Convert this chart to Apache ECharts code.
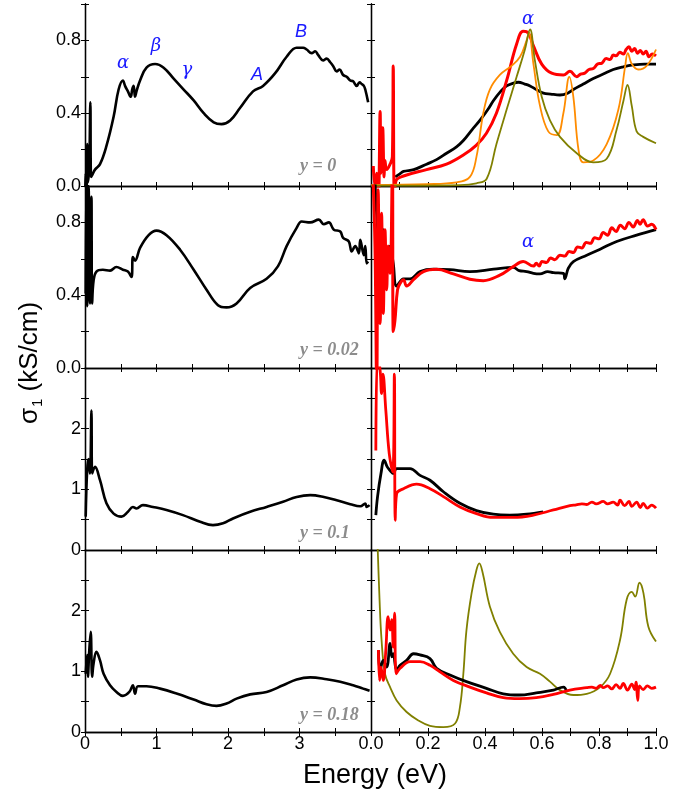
<!DOCTYPE html>
<html>
<head>
<meta charset="utf-8">
<script src="https://cdn.jsdelivr.net/npm/echarts@6/dist/echarts.min.js"></script>
<style>
    html, body {margin: 0; padding: 0; background: #fff;}
    #main {width: 695px; height: 796px;}
</style>
</head>
<body>
<div id="main"></div>
<script>
// panel ticks
var xTicksLeft = [0, 1, 2, 3];
var xTicksRight = [0.0, 0.2, 0.4, 0.6, 0.8, 1.0];
var rowLabels = ["y = 0", "y = 0.02", "y = 0.1", "y = 0.18"];
var rowMax = [1.0, 1.0, 3, 3];

// row 1 (y = 0)
var r1Left = [[0.005, 0.0], [0.01, 0.07], [0.02, -0.05], [0.03, 0.23], [0.04, 0.02], [0.05, 0.05], [0.06, 0.1], [0.075, 0.46], [0.085, 0.05], [0.1, 0.06], [0.14, 0.09], [0.21, 0.12], [0.3, 0.22], [0.4, 0.38], [0.47, 0.53], [0.53, 0.58], [0.56, 0.55], [0.6, 0.52], [0.64, 0.49], [0.66, 0.53], [0.68, 0.55], [0.7, 0.49], [0.72, 0.52], [0.77, 0.58], [0.86, 0.65], [0.98, 0.67], [1.1, 0.65], [1.24, 0.59], [1.38, 0.53], [1.52, 0.47], [1.66, 0.40], [1.8, 0.35], [1.91, 0.34], [2.03, 0.36], [2.17, 0.43], [2.35, 0.52], [2.49, 0.55], [2.66, 0.62], [2.82, 0.71], [2.96, 0.76], [3.05, 0.76], [3.1, 0.75], [3.17, 0.73], [3.22, 0.74], [3.26, 0.72], [3.33, 0.69], [3.38, 0.70], [3.43, 0.68], [3.47, 0.66], [3.52, 0.63], [3.56, 0.64], [3.61, 0.61], [3.66, 0.60], [3.71, 0.58], [3.75, 0.575], [3.8, 0.55], [3.84, 0.57], [3.87, 0.56], [3.9, 0.55], [3.92, 0.53], [3.96, 0.46]];
var r1RightBlack = [[0.085, 0.05], [0.1, 0.065], [0.114, 0.08], [0.15, 0.09], [0.195, 0.12], [0.23, 0.145], [0.265, 0.18], [0.3, 0.215], [0.324, 0.25], [0.355, 0.31], [0.382, 0.36], [0.41, 0.42], [0.43, 0.47], [0.455, 0.52], [0.476, 0.55], [0.5, 0.565], [0.517, 0.57], [0.54, 0.56], [0.558, 0.55], [0.58, 0.53], [0.605, 0.51], [0.63, 0.505], [0.663, 0.50], [0.69, 0.51], [0.71, 0.53], [0.745, 0.56], [0.78, 0.59], [0.815, 0.615], [0.85, 0.64], [0.885, 0.655], [0.92, 0.665], [0.96, 0.67], [1.0, 0.67]];
var r1RightRed = [[0.008, 0.11], [0.014, 0.0], [0.02, 0.07], [0.026, -0.07], [0.032, 0.41], [0.035, 0.07], [0.041, 0.32], [0.046, 0.05], [0.049, 0.14], [0.055, 0.09], [0.067, 0.12], [0.075, 0.16], [0.078, 0.66], [0.082, -0.06], [0.088, 0.03], [0.114, 0.055], [0.195, 0.09], [0.265, 0.12], [0.324, 0.17], [0.37, 0.225], [0.405, 0.29], [0.44, 0.40], [0.476, 0.58], [0.511, 0.78], [0.534, 0.85], [0.552, 0.84], [0.57, 0.77], [0.599, 0.67], [0.634, 0.62], [0.675, 0.61], [0.698, 0.63], [0.722, 0.60], [0.735, 0.615], [0.75, 0.62], [0.765, 0.64], [0.78, 0.645], [0.795, 0.67], [0.81, 0.675], [0.825, 0.70], [0.839, 0.695], [0.85, 0.72], [0.86, 0.715], [0.873, 0.735], [0.886, 0.725], [0.895, 0.75], [0.905, 0.765], [0.915, 0.74], [0.925, 0.755], [0.935, 0.73], [0.945, 0.745], [0.955, 0.725], [0.965, 0.74], [0.975, 0.71], [0.987, 0.725], [1.0, 0.715]];
var r1RightOrange = [[0.0, 0.005], [0.195, 0.01], [0.30, 0.02], [0.347, 0.05], [0.37, 0.16], [0.394, 0.40], [0.417, 0.53], [0.452, 0.61], [0.493, 0.66], [0.523, 0.71], [0.546, 0.80], [0.554, 0.84], [0.57, 0.67], [0.593, 0.44], [0.622, 0.30], [0.652, 0.28], [0.675, 0.40], [0.696, 0.60], [0.71, 0.49], [0.728, 0.20], [0.745, 0.13], [0.78, 0.14], [0.827, 0.23], [0.868, 0.42], [0.892, 0.66], [0.901, 0.73], [0.915, 0.67], [0.938, 0.64], [0.967, 0.66], [1.0, 0.75]];
var r1RightOlive = [[0.0, 0.002], [0.312, 0.005], [0.37, 0.015], [0.406, 0.04], [0.44, 0.23], [0.476, 0.42], [0.511, 0.60], [0.54, 0.75], [0.558, 0.86], [0.575, 0.69], [0.599, 0.49], [0.628, 0.36], [0.663, 0.27], [0.722, 0.18], [0.78, 0.13], [0.827, 0.15], [0.862, 0.31], [0.886, 0.47], [0.9, 0.555], [0.915, 0.44], [0.932, 0.30], [0.955, 0.27], [1.0, 0.235]];

// row 2 (y = 0.02)
var r2Left = [[0.01, 0.41], [0.02, 1.1], [0.03, 0.34], [0.05, 1.0], [0.07, 0.355], [0.09, 0.94], [0.10, 0.355], [0.12, 0.48], [0.16, 0.53], [0.25, 0.54], [0.35, 0.535], [0.44, 0.555], [0.53, 0.54], [0.6, 0.53], [0.65, 0.50], [0.67, 0.61], [0.7, 0.59], [0.77, 0.66], [0.89, 0.73], [1.0, 0.755], [1.14, 0.73], [1.33, 0.65], [1.52, 0.54], [1.7, 0.43], [1.86, 0.345], [1.98, 0.333], [2.12, 0.355], [2.31, 0.44], [2.54, 0.49], [2.7, 0.56], [2.82, 0.67], [2.96, 0.77], [3.03, 0.805], [3.15, 0.80], [3.27, 0.815], [3.34, 0.79], [3.41, 0.80], [3.48, 0.76], [3.57, 0.75], [3.61, 0.715], [3.69, 0.695], [3.73, 0.64], [3.78, 0.67], [3.83, 0.63], [3.85, 0.705], [3.9, 0.62], [3.92, 0.67], [3.94, 0.575], [3.96, 0.585]];
var r2RightBlack = [[0.012, 1.1], [0.035, 0.575], [0.043, 0.76], [0.055, 0.52], [0.067, 0.67], [0.078, 0.575], [0.09, 0.45], [0.114, 0.49], [0.137, 0.49], [0.172, 0.53], [0.219, 0.543], [0.277, 0.54], [0.347, 0.53], [0.43, 0.543], [0.499, 0.553], [0.52, 0.535], [0.546, 0.53], [0.57, 0.52], [0.593, 0.517], [0.62, 0.53], [0.64, 0.524], [0.675, 0.52], [0.68, 0.49], [0.692, 0.548], [0.71, 0.585], [0.757, 0.62], [0.804, 0.653], [0.862, 0.695], [0.932, 0.73], [1.0, 0.76]];
var r2RightRed = [[0.006, 1.1], [0.014, 0.67], [0.02, -0.1], [0.025, 0.98], [0.032, 0.245], [0.037, 0.85], [0.043, 0.30], [0.049, 0.76], [0.055, 0.43], [0.06, 0.67], [0.067, 0.52], [0.075, 1.1], [0.078, 0.2], [0.084, 0.26], [0.093, 0.43], [0.102, 0.465], [0.114, 0.485], [0.125, 0.45], [0.149, 0.485], [0.184, 0.53], [0.23, 0.543], [0.289, 0.517], [0.347, 0.488], [0.394, 0.48], [0.452, 0.51], [0.499, 0.557], [0.534, 0.585], [0.57, 0.56], [0.58, 0.575], [0.59, 0.56], [0.6, 0.585], [0.616, 0.58], [0.63, 0.605], [0.645, 0.595], [0.663, 0.62], [0.68, 0.615], [0.695, 0.64], [0.71, 0.635], [0.725, 0.665], [0.74, 0.66], [0.755, 0.69], [0.77, 0.685], [0.785, 0.715], [0.8, 0.71], [0.815, 0.745], [0.83, 0.73], [0.845, 0.77], [0.86, 0.75], [0.875, 0.785], [0.89, 0.765], [0.905, 0.80], [0.92, 0.775], [0.935, 0.81], [0.944, 0.79], [0.955, 0.815], [0.97, 0.78], [0.985, 0.79], [1.0, 0.76]];

// row 3 (y = 0.1)
var r3Left = [[0.01, 0.55], [0.03, 1.31], [0.05, 1.5], [0.07, 1.26], [0.09, 2.30], [0.10, 1.26], [0.14, 1.37], [0.21, 1.15], [0.3, 0.77], [0.4, 0.60], [0.51, 0.55], [0.6, 0.63], [0.67, 0.71], [0.72, 0.685], [0.81, 0.74], [0.95, 0.71], [1.14, 0.66], [1.37, 0.575], [1.61, 0.465], [1.79, 0.41], [1.93, 0.44], [2.07, 0.52], [2.31, 0.63], [2.54, 0.71], [2.77, 0.795], [2.96, 0.875], [3.15, 0.905], [3.34, 0.875], [3.52, 0.82], [3.71, 0.755], [3.85, 0.72], [3.92, 0.765], [3.94, 0.71], [3.98, 0.74]];
var r3RightBlack = [[0.017, 0.575], [0.023, 0.88], [0.035, 1.26], [0.046, 1.48], [0.057, 1.37], [0.067, 1.31], [0.078, 1.26], [0.09, 1.34], [0.114, 1.34], [0.137, 1.34], [0.172, 1.23], [0.207, 1.15], [0.254, 0.96], [0.312, 0.77], [0.37, 0.65], [0.429, 0.59], [0.487, 0.575], [0.546, 0.59], [0.604, 0.63]];
var r3RightRed = [[0.017, 1.64], [0.023, 3.2], [0.032, 2.96], [0.037, 2.58], [0.042, 2.9], [0.052, 2.3], [0.064, 1.59], [0.076, 1.29], [0.082, 2.9], [0.085, 0.49], [0.09, 0.93], [0.114, 1.01], [0.16, 1.085], [0.207, 1.01], [0.254, 0.88], [0.312, 0.71], [0.37, 0.60], [0.429, 0.537], [0.499, 0.537], [0.57, 0.575], [0.64, 0.66], [0.698, 0.73], [0.72, 0.745], [0.74, 0.76], [0.757, 0.75], [0.775, 0.79], [0.79, 0.76], [0.815, 0.8], [0.83, 0.76], [0.85, 0.79], [0.865, 0.74], [0.874, 0.82], [0.89, 0.73], [0.905, 0.80], [0.915, 0.72], [0.932, 0.79], [0.945, 0.70], [0.955, 0.77], [0.97, 0.69], [0.985, 0.74], [1.0, 0.69]];

// row 4 (y = 0.18)
var r4Left = [[0.01, 0.96], [0.03, 1.27], [0.04, 0.91], [0.06, 1.35], [0.08, 1.65], [0.1, 0.91], [0.12, 1.13], [0.16, 1.32], [0.21, 1.18], [0.26, 0.96], [0.35, 0.77], [0.44, 0.66], [0.53, 0.595], [0.62, 0.66], [0.67, 0.77], [0.7, 0.63], [0.74, 0.755], [0.86, 0.755], [1.05, 0.715], [1.28, 0.635], [1.52, 0.535], [1.7, 0.457], [1.84, 0.43], [1.98, 0.47], [2.12, 0.55], [2.31, 0.62], [2.54, 0.66], [2.77, 0.77], [2.96, 0.865], [3.15, 0.90], [3.38, 0.87], [3.57, 0.83], [3.75, 0.77], [3.89, 0.715], [3.98, 0.68]];
var r4RightOlive = [[0.02, 3.5], [0.03, 2.18], [0.037, 1.52], [0.049, 0.96], [0.067, 0.74], [0.09, 0.52], [0.125, 0.33], [0.166, 0.19], [0.207, 0.10], [0.254, 0.08], [0.295, 0.14], [0.312, 0.41], [0.324, 0.96], [0.335, 1.68], [0.353, 2.29], [0.37, 2.67], [0.38, 2.78], [0.392, 2.62], [0.417, 2.07], [0.452, 1.65], [0.499, 1.29], [0.546, 1.07], [0.593, 0.96], [0.628, 0.83], [0.663, 0.69], [0.71, 0.61], [0.757, 0.63], [0.804, 0.74], [0.839, 0.96], [0.874, 1.52], [0.897, 2.18], [0.915, 2.31], [0.927, 2.23], [0.942, 2.46], [0.956, 2.29], [0.973, 1.74], [1.0, 1.49]];
var r4RightBlack = [[0.026, 1.35], [0.032, 1.02], [0.043, 1.18], [0.055, 1.07], [0.067, 1.46], [0.073, 1.24], [0.078, 1.29], [0.09, 1.02], [0.102, 1.10], [0.125, 1.18], [0.149, 1.29], [0.172, 1.27], [0.207, 1.21], [0.23, 1.05], [0.277, 0.94], [0.335, 0.83], [0.405, 0.72], [0.464, 0.63], [0.52, 0.61], [0.58, 0.645], [0.64, 0.69], [0.675, 0.74], [0.687, 0.66]];
var r4RightRed = [[0.026, 1.35], [0.03, 0.85], [0.035, 1.07], [0.043, 0.85], [0.052, 1.35], [0.06, 1.90], [0.067, 1.68], [0.073, 1.85], [0.078, 1.40], [0.083, 1.96], [0.088, 0.96], [0.102, 1.05], [0.137, 1.16], [0.172, 1.16], [0.207, 1.10], [0.242, 0.99], [0.289, 0.85], [0.347, 0.74], [0.405, 0.645], [0.464, 0.567], [0.52, 0.55], [0.58, 0.567], [0.64, 0.62], [0.698, 0.69], [0.757, 0.73], [0.775, 0.74], [0.79, 0.72], [0.805, 0.77], [0.815, 0.73], [0.83, 0.76], [0.845, 0.71], [0.86, 0.78], [0.874, 0.72], [0.885, 0.80], [0.9, 0.69], [0.915, 0.79], [0.925, 0.70], [0.93, 0.82], [0.936, 0.52], [0.942, 0.76], [0.955, 0.70], [0.97, 0.76], [0.985, 0.72], [1.0, 0.74]];

var BLACK = "#000000", RED = "#ff0000", ORANGE = "#ff8c00", OLIVE = "#808000";

var chart = echarts.init(document.getElementById("main"));

var gridLeft = [85, 371], gridWidth = [286, 285];
var gridTop = [4, 186, 368, 550], gridHeight = 182;

var grids = [], xAxes = [], yAxes = [], series = [];

var lineAxis = {lineStyle: {color: "#000", width: 1.3}};
var tick = {inside: true, length: 4, lineStyle: {color: "#000", width: 1}};

var xLabel = function (col) {
    return function (v) {
        var r = Math.round(v * 10) / 10;
        if (col === 0) {
            return xTicksLeft.indexOf(r) >= 0 ? String(r) : "";
        }
        return xTicksRight.indexOf(r) >= 0 ? r.toFixed(1) : "";
    };
};
var yLabel = function (row) {
    return function (v) {
        var r = Math.round(v * 10) / 10;
        if (row < 2) {
            return (Math.round(r * 10) % 4 === 0 && r < 0.95) ? r.toFixed(1) : "";
        }
        return (r % 1 === 0 && r < 3) ? String(r) : "";
    };
};

function $ext(a, b) {
    var o = {};
    for (var k in a) o[k] = a[k];
    for (var k2 in b) o[k2] = b[k2];
    return o;
}

for (var row = 0; row < 4; row++) {
    for (var col = 0; col < 2; col++) {
        var g = row * 2 + col;
        grids.push({left: gridLeft[col], top: gridTop[row], width: gridWidth[col], height: gridHeight, containLabel: false});
        var xBase = {
            gridIndex: g, type: "value", min: 0, max: col === 0 ? 4 : 1, interval: col === 0 ? 0.5 : 0.1,
            axisLine: lineAxis, axisTick: tick, splitLine: {show: false}
        };
        xAxes.push($ext(xBase, {position: "bottom", axisLabel: {show: row === 3, formatter: xLabel(col), color: "#000", fontSize: 18, fontFamily: "Liberation Sans", margin: 3}}));
        xAxes.push($ext(xBase, {position: "top", axisLabel: {show: false}}));
        var yBase = {
            gridIndex: g, type: "value", min: 0, max: rowMax[row], interval: row < 2 ? 0.2 : 0.5,
            axisLine: lineAxis, axisTick: tick, splitLine: {show: false}
        };
        yAxes.push($ext(yBase, {position: "left", axisLabel: {show: col === 0, formatter: yLabel(row), color: "#000", fontSize: 18, fontFamily: "Liberation Sans", margin: 4}}));
        yAxes.push($ext(yBase, {position: "right", axisLabel: {show: false}}));
    }
}

function addLine(g, data, color, width) {
    series.push({
        type: "line", xAxisIndex: g * 2, yAxisIndex: g * 2, data: data,
        showSymbol: false, symbol: "none", clip: true, animation: false,
        smooth: 0.4,
        lineStyle: {color: color, width: width}
    });
}

addLine(0, r1Left, BLACK, 2.6);
addLine(1, r1RightBlack, BLACK, 2.8);
addLine(1, r1RightRed, RED, 3);
addLine(1, r1RightOrange, ORANGE, 1.8);
addLine(1, r1RightOlive, OLIVE, 1.8);
addLine(2, r2Left, BLACK, 2.6);
addLine(3, r2RightBlack, BLACK, 2.8);
addLine(3, r2RightRed, RED, 3);
addLine(4, r3Left, BLACK, 2.6);
addLine(5, r3RightBlack, BLACK, 2.8);
addLine(5, r3RightRed, RED, 2.8);
addLine(6, r4Left, BLACK, 2.6);
addLine(7, r4RightOlive, OLIVE, 1.8);
addLine(7, r4RightBlack, BLACK, 2.8);
addLine(7, r4RightRed, RED, 2.8);

var blueGreek = {fill: "#1a1aff", font: "italic 18px 'DejaVu Serif'", textAlign: "center", textVerticalAlign: "middle"};
var blueLatin = {fill: "#1a1aff", font: "italic 18px 'Liberation Sans'", textAlign: "center", textVerticalAlign: "middle"};
var gText = function (x, y, text, st) {
    var s = {text: text};
    for (var k in st) s[k] = st[k];
    return {type: "text", x: x, y: y, style: s, silent: true};
};

var graphics = [
    gText(123, 63, "\u03b1", blueGreek),
    gText(156, 46, "\u03b2", blueGreek),
    gText(187, 70, "\u03b3", blueGreek),
    gText(257, 75, "A", blueLatin),
    gText(301, 32, "B", blueLatin),
    gText(528, 19, "\u03b1", blueGreek),
    gText(528, 242, "\u03b1", blueGreek),
    gText(375, 776, "Energy (eV)", {fill: "#000", font: "27px 'Liberation Sans'", textAlign: "center", textVerticalAlign: "middle"}),
    {
        type: "text", x: 30, y: 363, rotation: Math.PI / 2, silent: true,
        style: {
            text: "{s|\u03c3}{b|1}{s| (kS/cm)}", textAlign: "center", textVerticalAlign: "middle",
            rich: {
                s: {fontSize: 26, fontFamily: "Liberation Sans", fill: "#000", lineHeight: 30},
                b: {fontSize: 15, fontFamily: "Liberation Sans", fill: "#000", lineHeight: 30, verticalAlign: "bottom", padding: [10, 0, 0, 1]}
            }
        }
    }
];
var labelY = [166, 350, 533, 715];
for (var i = 0; i < 4; i++) {
    graphics.push(gText(300, labelY[i], rowLabels[i], {fill: "#8c8c8c", font: "italic bold 18px 'Liberation Serif'", textAlign: "left", textVerticalAlign: "middle"}));
}

var option = {
    backgroundColor: "#fff",
    animation: false,
    grid: grids,
    xAxis: xAxes,
    yAxis: yAxes,
    series: series,
    graphic: graphics
};
chart.setOption(option);
</script>
</body>
</html>
